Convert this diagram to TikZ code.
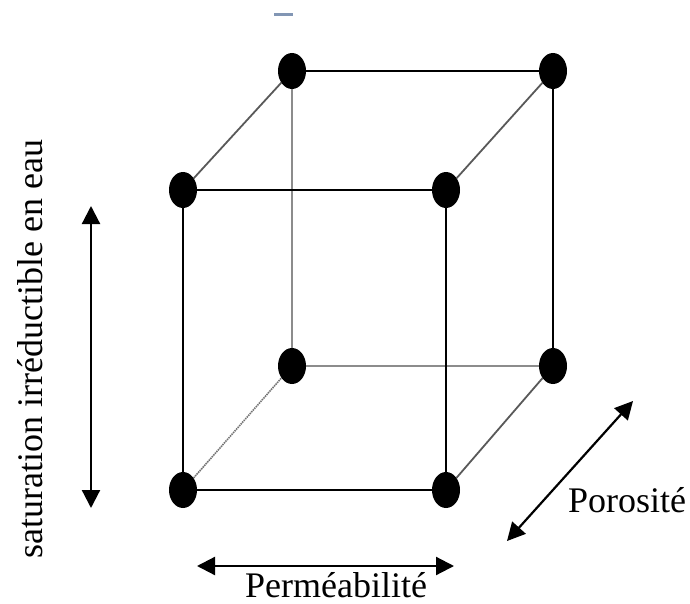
\documentclass[tikz,border=0pt]{standalone}
\usepackage{fontspec}
\setmainfont{Liberation Serif}
\usetikzlibrary{arrows.meta,shapes.geometric}
\definecolor{dashcol}{RGB}{130,150,180}
\begin{document}
\begin{tikzpicture}[x=1pt,y=-1pt,
  vertex/.style={ellipse,fill=black,draw=none,minimum width=28pt,minimum height=36pt,inner sep=0pt},
  thickedge/.style={line width=2.8pt,black},
  thinedge/.style={line width=1.6pt,black!45},
  diagedge/.style={line width=1.8pt,black!65},
  dotedge/.style={line width=1.6pt,black!55,dash pattern=on 1.5pt off 0.8pt},
  dblarrow/.style={line width=2.2pt,black,{Triangle[length=18pt,width=18pt]}-{Triangle[length=18pt,width=18pt]}},
  lab/.style={font=\fontsize{36}{40}\selectfont,inner sep=0pt}]
\useasboundingbox (0,0) rectangle (690,604);
% top artifact dash
\draw[line width=3pt,dashcol] (274,14.5) -- (293,14.5);
% vertices
\node[vertex] (A) at (183,190) {};
\node[vertex] (B) at (446,190) {};
\node[vertex] (C) at (183,490) {};
\node[vertex] (D) at (446,490) {};
\node[vertex] (E) at (292,71) {};
\node[vertex] (F) at (553,71) {};
\node[vertex] (G) at (292,366) {};
\node[vertex] (H) at (553,366) {};
% hidden/back edges (thin)
\draw[thinedge] (E) -- (G);
\draw[thinedge] (G) -- (H);
% diagonals
\draw[diagedge] (A) -- (E);
\draw[diagedge] (B) -- (F);
\draw[diagedge] (D) -- (H);
\draw[dotedge] (C) -- (G);
% thick edges
\draw[thickedge] (A) -- (B);
\draw[thickedge] (C) -- (D);
\draw[thickedge] (A) -- (C);
\draw[thickedge] (B) -- (D);
\draw[thickedge] (E) -- (F);
\draw[thickedge] (F) -- (H);
% arrow end points
\coordinate (v1) at (91,206);
\coordinate (v2) at (91,508);
\coordinate (h1) at (197,566);
\coordinate (h2) at (454,566);
\coordinate (d1) at (507,541);
\coordinate (d2) at (633,401);
\draw[dblarrow] (v1) -- (v2);
\draw[dblarrow] (h1) -- (h2);
\draw[dblarrow] (d1) -- (d2);
% labels
\node[lab,rotate=90] (sat) at (30,349) {saturation irréductible en eau};
\node[lab] (perm) at (336,585) {Perméabilité};
\node[lab] (poro) at (627,500) {Porosité};
\end{tikzpicture}
\end{document}
